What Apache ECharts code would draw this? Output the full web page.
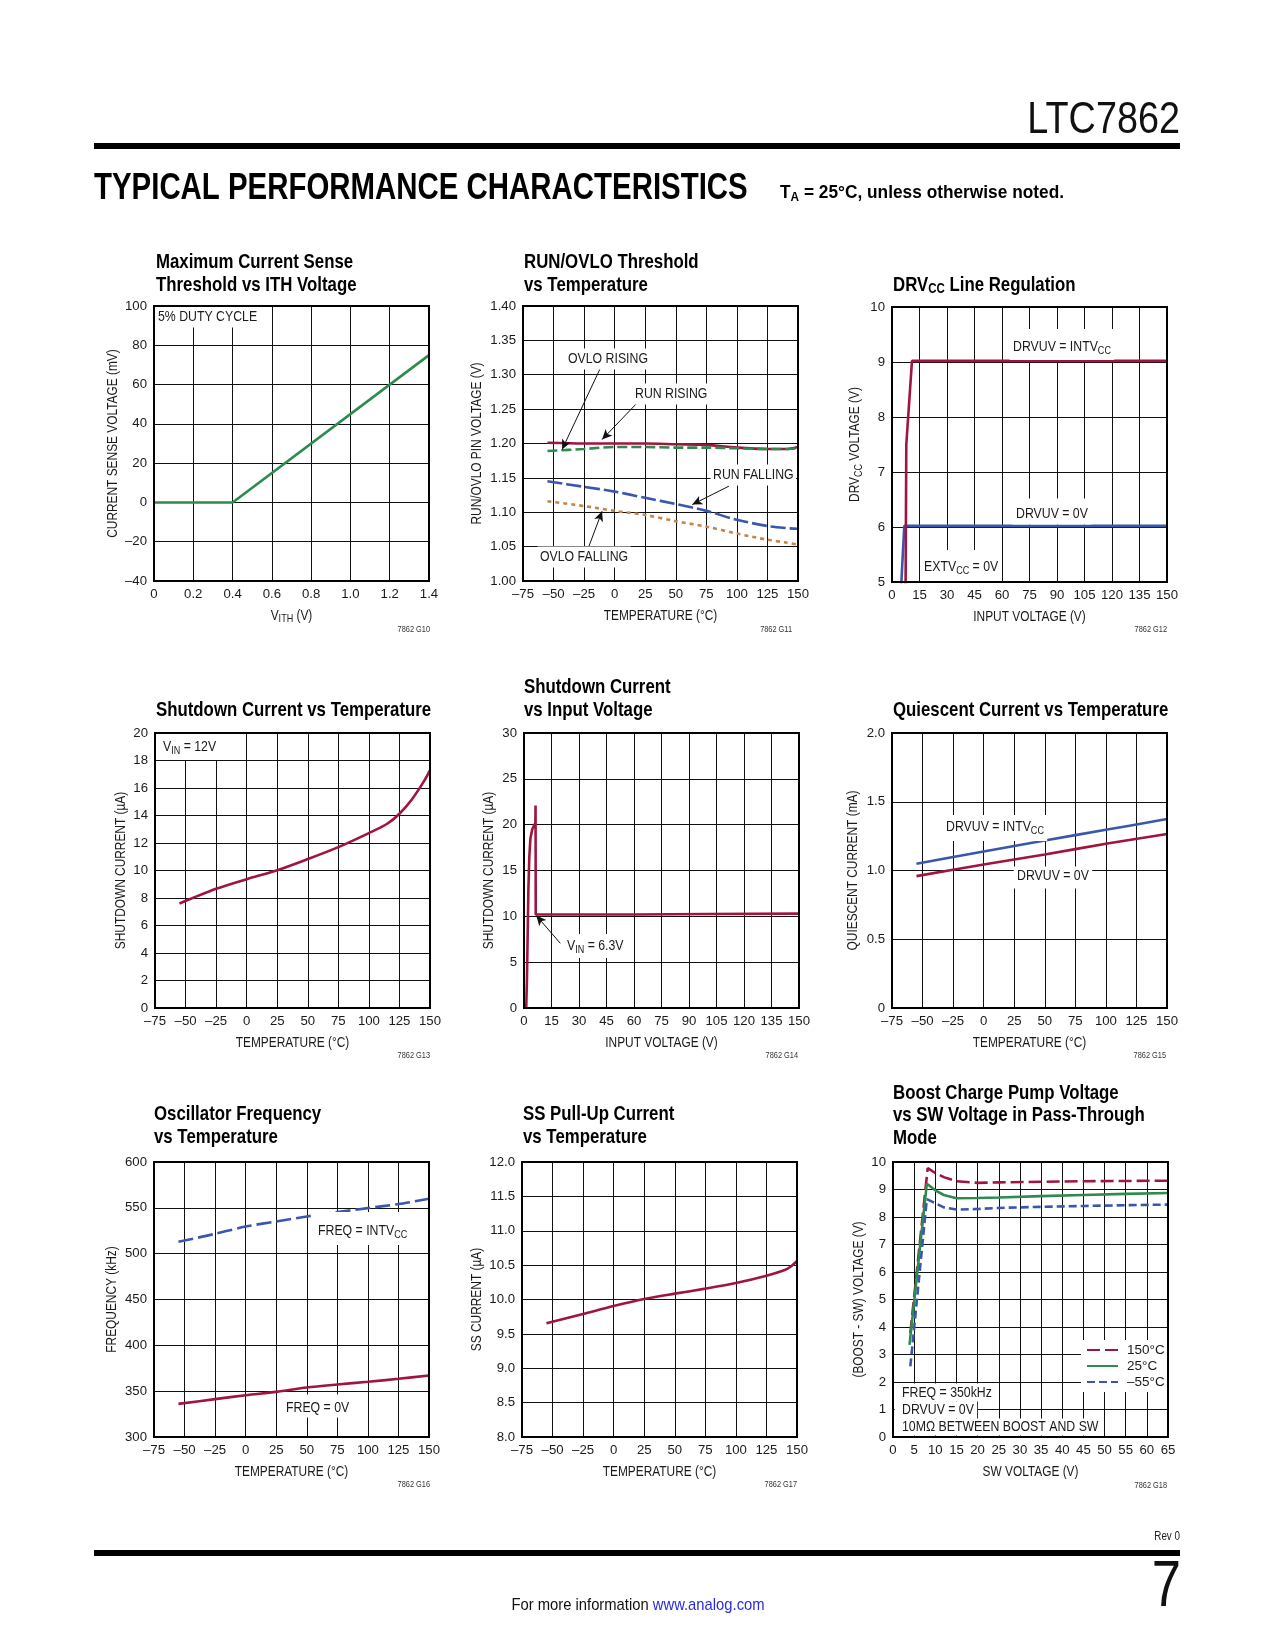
<!DOCTYPE html>
<html><head><meta charset="utf-8">
<script src="https://cdn.jsdelivr.net/npm/echarts@6/dist/echarts.min.js"></script>
<style>html,body{margin:0;padding:0;background:#fff}#c{width:1275px;height:1650px}</style>
</head><body><div id="c"></div><script>
// ---------- DATA ----------
// G10 Maximum Current Sense Threshold vs ITH Voltage
const g10_vith = [0, 0.4, 1.4];
const g10_sense = [0, 0, 75];
// G11 RUN/OVLO Threshold vs Temperature
const g11_temp = [-55, -25, 0, 25, 50, 75, 100, 125, 140, 150];
const g11_runRising = [1.201, 1.200, 1.200, 1.200, 1.199, 1.198, 1.194, 1.192, 1.192, 1.195];
const g11_ovloRising = [1.189, 1.192, 1.195, 1.195, 1.194, 1.194, 1.193, 1.192, 1.192, 1.193];
const g11_runFalling = [1.145, 1.137, 1.130, 1.121, 1.112, 1.102, 1.089, 1.080, 1.077, 1.076];
const g11_ovloFalling = [1.116, 1.109, 1.102, 1.096, 1.087, 1.079, 1.069, 1.060, 1.056, 1.053];
const g11_arrows = [[-11.6, 1.310, -43, 1.1913], [18.4, 1.259, -10.3, 1.2058], [93.5, 1.138, 63.5, 1.1112], [-22.6, 1.0432, -10.3, 1.1015]];
// G12 DRVcc Line Regulation
const g12_vinIntv = [7.4, 7.8, 10.9, 150];
const g12_drvIntv = [4.8, 7.5, 9.02, 9.02];
const g12_vinZero = [4.8, 6.7, 150];
const g12_drvZero = [4.8, 6.02, 6.02];
// G13 Shutdown Current vs Temperature
const g13_temp = [-55, -25, 0, 25, 50, 75, 100, 115, 125, 135, 145, 150];
const g13_current = [7.6, 8.67, 9.37, 10.02, 10.83, 11.70, 12.72, 13.4, 14.13, 15.15, 16.48, 17.28];
// G14 Shutdown Current vs Input Voltage
const g14_vin = [1.2, 1.6, 2.0, 2.4, 2.9, 3.5, 4.5, 6.2, 6.3, 6.4, 20, 60, 100, 150];
const g14_current = [0, 3, 8, 13, 16.5, 18.5, 19.5, 20.2, 22.1, 10.2, 10.2, 10.2, 10.25, 10.3];
const g14_arrow = [19.8, 7.06, 6.7, 10.08];
// G15 Quiescent Current vs Temperature
const g15_temp = [-55, 0, 50, 100, 150];
const g15_intv = [1.049, 1.138, 1.218, 1.296, 1.374];
const g15_zero = [0.959, 1.044, 1.117, 1.194, 1.265];
// G16 Oscillator Frequency vs Temperature
const g16_temp = [-55, -25, 0, 25, 50, 75, 100, 125, 150];
const g16_intv = [512.9, 521.6, 529.6, 535.1, 540.6, 545.3, 549.7, 554.1, 559.9];
const g16_zero = [336.1, 341.3, 345.6, 349.2, 354.0, 357.3, 360.2, 363.5, 367.1];
// G17 SS Pull-Up Current vs Temperature
const g17_temp = [-55, -25, 0, 25, 50, 75, 100, 125, 140, 145, 150];
const g17_current = [9.653, 9.789, 9.905, 10.007, 10.085, 10.158, 10.24, 10.347, 10.43, 10.48, 10.56];
// G18 Boost Charge Pump Voltage vs SW Voltage
const g18_sw150 = [4.1, 8.2, 8.5, 10, 12, 15, 20, 25, 35, 45, 55, 65];
const g18_v150 = [3.78, 9.78, 9.8, 9.6, 9.45, 9.30, 9.24, 9.26, 9.28, 9.30, 9.31, 9.32];
const g18_sw25 = [3.9, 8.0, 10, 12, 15, 20, 25, 35, 45, 55, 65];
const g18_v25 = [3.35, 9.21, 8.97, 8.8, 8.68, 8.69, 8.71, 8.76, 8.80, 8.84, 8.87];
const g18_swm55 = [4.1, 8.0, 10, 12, 15, 20, 25, 35, 45, 55, 65];
const g18_vm55 = [2.57, 8.65, 8.5, 8.35, 8.27, 8.29, 8.33, 8.37, 8.40, 8.43, 8.45];
const g18_legend = ['150°C', '25°C', '–55°C'];

// ---------- STYLE / LAYOUT ----------
const FONT = "'Liberation Sans', Arial, Helvetica, sans-serif";
const SX = 0.82; // horizontal condensing for free text
const RED = '#a0153e', BLUE = '#3a57b0', GREEN = '#2e8b4e', ORANGE = '#c8844a', INK = '#1a1a1a';
const GW = 275, GH = 275;
const GRID_POS = [[154, 306], [523, 306], [892, 307], [155, 733], [524, 733], [892, 733], [154, 1162], [522, 1162], [893, 1162]];

const dash = v => String(v).replace('-', '\u2013');
const fx = d => v => v === 0 ? '0' : dash(v.toFixed(d));
const fi = v => dash(v);

const AXES = [
  {x: [0, 1.4, 0.2, fx(1)], y: [-40, 100, 20, fi], xName: 'V{sub|ITH} (V)', yName: 'CURRENT SENSE VOLTAGE (mV)', yNameX: 112.7},
  {x: [-75, 150, 25, fi], y: [1.0, 1.4, 0.05, v => v.toFixed(2)], xName: 'TEMPERATURE (°C)', yName: 'RUN/OVLO PIN VOLTAGE (V)', yNameX: 476.7},
  {x: [0, 150, 15, fi], y: [5, 10, 1, fi], xName: 'INPUT VOLTAGE (V)', yName: 'DRV{sub|CC} VOLTAGE (V)', yNameX: 855},
  {x: [-75, 150, 25, fi], y: [0, 20, 2, fi], xName: 'TEMPERATURE (°C)', yName: 'SHUTDOWN CURRENT (µA)', yNameX: 120.7},
  {x: [0, 150, 15, fi], y: [0, 30, 5, fi], xName: 'INPUT VOLTAGE (V)', yName: 'SHUTDOWN CURRENT (µA)', yNameX: 489},
  {x: [-75, 150, 25, fi], y: [0, 2, 0.5, fx(1)], xName: 'TEMPERATURE (°C)', yName: 'QUIESCENT CURRENT (mA)', yNameX: 852.7},
  {x: [-75, 150, 25, fi], y: [300, 600, 50, fi], xName: 'TEMPERATURE (°C)', yName: 'FREQUENCY (kHz)', yNameX: 111.7},
  {x: [-75, 150, 25, fi], y: [8, 12, 0.5, v => v.toFixed(1)], xName: 'TEMPERATURE (°C)', yName: 'SS CURRENT (µA)', yNameX: 476.7},
  {x: [0, 65, 5, fi], y: [0, 10, 1, fi], xName: 'SW VOLTAGE (V)', yName: '(BOOST - SW) VOLTAGE (V)', yNameX: 859}
];

const ZR_RICH = {sub: {fontFamily: FONT, fontSize: 11, padding: [7, 0, 0, 0], fill: INK}};
const ZR_RICH_B = {sub: {fontFamily: FONT, fontWeight: 'bold', fontSize: 14, padding: [9, 0, 0, 0], fill: '#000'},
                   link: {fontFamily: FONT, fontSize: 17, fill: '#2b2bd9'}};

function axisCommon(a, i, isX) {
  const s = isX ? a.x : a.y;
  return {
    type: 'value', gridIndex: i, min: s[0], max: s[1], interval: s[2],
    axisLine: {show: false}, axisTick: {show: false},
    splitLine: {show: true, lineStyle: {color: '#111', width: 1}},
    axisLabel: {formatter: s[3], fontFamily: FONT, fontSize: 13.2, color: INK, margin: 7}
  };
}

function line(i, xs, ys, color, type, smooth, name) {
  const s = {
    type: 'line', xAxisIndex: i, yAxisIndex: i, data: xs.map((x, k) => [x, ys[k]]),
    symbol: 'none', showSymbol: false, smooth: smooth || false, silent: true, z: 3,
    lineStyle: {color: color, width: 2.6, type: type || 'solid', cap: 'butt'}, itemStyle: {color: color}
  };
  if (name) s.name = name;
  return s;
}
function arrows(list) {
  return {
    silent: true, symbol: ['none', 'arrow'], symbolSize: [7, 10], label: {show: false},
    lineStyle: {color: '#111', width: 1, type: 'solid'}, emphasis: {disabled: true},
    data: list.map(a => [{coord: [a[0], a[1]]}, {coord: [a[2], a[3]]}])
  };
}

// text helpers (condensed with scaleX)
function note(x, y, text, pad) {
  const p = pad || [0, 0, 0, 0];
  const el = {type: 'text', x: x - p[3] * SX, y: y - (p[0] - p[2]) / 2, z: 6, scaleX: SX,
    style: {text: text, fontFamily: FONT, fontSize: 15, fill: INK, align: 'left', verticalAlign: 'middle', rich: ZR_RICH}};
  if (pad) { el.style.backgroundColor = '#fff'; el.style.padding = p; }
  return el;
}
function title(x, y, text) {
  return {type: 'text', x: x, y: y, z: 6, scaleX: SX, style: {text: text, fontFamily: FONT, fontWeight: 'bold', fontSize: 20.5, fill: '#000', align: 'left', verticalAlign: 'middle', rich: ZR_RICH_B}};
}
function figId(x, y, text) {
  return {type: 'text', x: x, y: y, z: 6, scaleX: SX, style: {text: text, fontFamily: FONT, fontSize: 9, fill: '#333', align: 'right', verticalAlign: 'middle'}};
}
function axisNames(a, i) {
  const g = GRID_POS[i];
  return [
    {type: 'text', x: g[0] + GW / 2, y: g[1] + GH + 34.5, z: 6, scaleX: SX,
      style: {text: a.xName, fontFamily: FONT, fontSize: 14.5, fill: INK, align: 'center', verticalAlign: 'middle', rich: ZR_RICH}},
    {type: 'text', x: a.yNameX, y: g[1] + GH / 2, z: 6, scaleX: SX, rotation: Math.PI / 2,
      style: {text: a.yName, fontFamily: FONT, fontSize: 14.5, fill: INK, align: 'center', verticalAlign: 'middle', rich: ZR_RICH}}
  ];
}

const series = [];
series.push(line(0, g10_vith, g10_sense, GREEN));
const s11 = line(1, g11_temp, g11_runRising, RED, 'solid', 0.3);
s11.markLine = arrows(g11_arrows);
series.push(s11);
series.push(line(1, g11_temp, g11_ovloRising, GREEN, [10, 4], 0.3));
series.push(line(1, g11_temp, g11_runFalling, BLUE, [15, 4], 0.3));
series.push(line(1, g11_temp, g11_ovloFalling, ORANGE, [4, 4], 0.3));
series.push(line(2, g12_vinZero, g12_drvZero, BLUE));
series.push(line(2, g12_vinIntv, g12_drvIntv, RED));
series.push(line(3, g13_temp, g13_current, RED, 'solid', 0.3));
const s14 = line(4, g14_vin, g14_current, RED);
s14.markLine = arrows([g14_arrow]);
series.push(s14);
series.push(line(5, g15_temp, g15_intv, BLUE, 'solid', 0.3));
series.push(line(5, g15_temp, g15_zero, RED, 'solid', 0.3));
series.push(line(6, g16_temp, g16_intv, BLUE, [15, 5], 0.3));
series.push(line(6, g16_temp, g16_zero, RED, 'solid', 0.3));
series.push(line(7, g17_temp, g17_current, RED, 'solid', 0.3));
series.push(line(8, g18_sw150, g18_v150, RED, [13, 5], false, g18_legend[0]));
series.push(line(8, g18_sw25, g18_v25, GREEN, 'solid', false, g18_legend[1]));
series.push(line(8, g18_swm55, g18_vm55, BLUE, [8, 4], false, g18_legend[2]));

const frames = GRID_POS.map(g => ({type: 'rect', z: 10, shape: {x: g[0], y: g[1], width: GW, height: GH},
  style: {fill: 'none', stroke: '#000', lineWidth: 2}}));

let graphics = [
  // page header
  {type: 'text', x: 1180, y: 121, scaleX: 0.84, style: {text: 'LTC7862', fontFamily: FONT, fontSize: 45, fill: '#111', align: 'right', verticalAlign: 'middle'}},
  {type: 'rect', shape: {x: 94, y: 143, width: 1086, height: 6}, style: {fill: '#000'}},
  {type: 'text', x: 94, y: 189, scaleX: 0.795, style: {text: 'TYPICAL PERFORMANCE CHARACTERISTICS', fontFamily: FONT, fontWeight: 'bold', fontSize: 37, fill: '#000', align: 'left', verticalAlign: 'middle'}},
  {type: 'text', x: 780, y: 193, scaleX: 0.91, style: {text: 'T{sub|A} = 25°C, unless otherwise noted.', fontFamily: FONT, fontWeight: 'bold', fontSize: 19, fill: '#000', align: 'left', verticalAlign: 'middle',
    rich: {sub: {fontFamily: FONT, fontWeight: 'bold', fontSize: 13, padding: [8, 0, 0, 0], fill: '#000'}}}},
  // footer
  {type: 'text', x: 1180, y: 1537, scaleX: SX, style: {text: 'Rev 0', fontFamily: FONT, fontSize: 12, fill: '#222', align: 'right', verticalAlign: 'middle'}},
  {type: 'rect', shape: {x: 94, y: 1550, width: 1086, height: 6}, style: {fill: '#000'}},
  {type: 'text', x: 1181, y: 1588, scaleX: SX, style: {text: '7', fontFamily: FONT, fontSize: 64, fill: '#111', align: 'right', verticalAlign: 'middle'}},
  {type: 'text', x: 638, y: 1605, scaleX: 0.87, style: {text: 'For more information {link|www.analog.com}', fontFamily: FONT, fontSize: 17, fill: '#111', align: 'center', verticalAlign: 'middle', rich: ZR_RICH_B}},
  // chart titles
  title(156, 262, 'Maximum Current Sense'), title(156, 285, 'Threshold vs ITH Voltage'),
  title(524, 262, 'RUN/OVLO Threshold'), title(524, 285, 'vs Temperature'),
  title(893, 285, 'DRV{sub|CC} Line Regulation'),
  title(156, 710, 'Shutdown Current vs Temperature'),
  title(524, 687, 'Shutdown Current'), title(524, 710, 'vs Input Voltage'),
  title(893, 710, 'Quiescent Current vs Temperature'),
  title(154, 1114, 'Oscillator Frequency'), title(154, 1137, 'vs Temperature'),
  title(523, 1114, 'SS Pull-Up Current'), title(523, 1137, 'vs Temperature'),
  title(893, 1093, 'Boost Charge Pump Voltage'), title(893, 1115, 'vs SW Voltage in Pass-Through'), title(893, 1138, 'Mode'),
  // figure ids
  figId(430, 630, '7862 G10'), figId(792, 630, '7862 G11'), figId(1167, 630, '7862 G12'),
  figId(430, 1056, '7862 G13'), figId(798, 1056, '7862 G14'), figId(1166, 1056, '7862 G15'),
  figId(430, 1485, '7862 G16'), figId(797, 1485, '7862 G17'), figId(1167, 1486, '7862 G18'),
  // annotations
  note(158, 317, '5% DUTY CYCLE', [3, 4, 3, 3]),
  note(568, 359, 'OVLO RISING', [3, 3, 3, 3]),
  note(635, 394, 'RUN RISING', [3, 3, 3, 3]),
  note(713, 475, 'RUN FALLING', [3, 3, 3, 3]),
  note(540, 557, 'OVLO FALLING', [3, 3, 3, 3]),
  note(1013, 347, 'DRVUV = INTV{sub|CC}', [9, 4, 4, 4]),
  note(1016, 514, 'DRVUV = 0V', [8, 4, 3, 4]),
  note(924, 567, 'EXTV{sub|CC} = 0V', [8, 4, 6, 4]),
  note(163, 747, 'V{sub|IN} = 12V', [4, 4, 4, 4]),
  note(567, 946, 'V{sub|IN} = 6.3V', [3, 3, 3, 3]),
  note(946, 827, 'DRVUV = INTV{sub|CC}', [3, 4, 5, 4]),
  note(1017, 876, 'DRVUV = 0V', [2, 4, 5, 4]),
  note(318, 1231, 'FREQ = INTV{sub|CC}', [10, 4, 5, 4]),
  note(286, 1408, 'FREQ = 0V', [6, 4, 2, 4]),
  note(902, 1393, 'FREQ = 350kHz', [2, 4, 1, 9]),
  note(902, 1410, 'DRVUV = 0V', [1, 4, 1, 9]),
  note(902, 1427, '10MΩ BETWEEN BOOST AND SW', [1, 4, 1, 9])
];
AXES.forEach((a, i) => { graphics = graphics.concat(axisNames(a, i)); });
graphics = graphics.concat(frames);

const chart = echarts.init(document.getElementById('c'), null, {renderer: 'canvas'});
chart.setOption({
  animation: false,
  backgroundColor: '#fff',
  grid: GRID_POS.map(g => ({left: g[0], top: g[1], width: GW, height: GH, containLabel: false, outerBoundsMode: 'none', show: false})),
  xAxis: AXES.map((a, i) => axisCommon(a, i, true)),
  yAxis: AXES.map((a, i) => axisCommon(a, i, false)),
  legend: {
    data: g18_legend, orient: 'vertical', left: 1081, top: 1340, itemWidth: 31, itemHeight: 10, itemGap: 2,
    selectedMode: false, backgroundColor: '#fff', padding: [3, 3, 3, 5], z: 7,
    itemStyle: {opacity: 0},
    textStyle: {fontFamily: FONT, fontSize: 13.5, color: INK, padding: [0, 0, 0, 4]}
  },
  series: series,
  graphic: {elements: graphics}
});
</script></body></html>
